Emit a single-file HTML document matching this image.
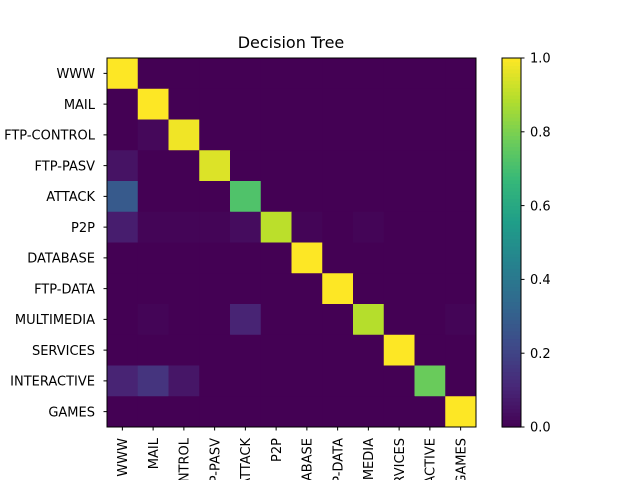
<!DOCTYPE html>
<html><head><meta charset="utf-8"><style>
html,body{margin:0;background:#fff;width:640px;height:480px;overflow:hidden;}
svg{display:block;font-family:"DejaVu Sans","Liberation Sans",sans-serif;}
</style></head><body>
<svg id="chart" width="640" height="480">
<text x="291" y="48" font-size="16" text-anchor="middle">Decision Tree</text>
<g id="cells"></g>
<g id="ax"></g>
<g id="cb"></g>
</svg>
<script>
const classes=["WWW","MAIL","FTP-CONTROL","FTP-PASV","ATTACK","P2P","DATABASE","FTP-DATA","MULTIMEDIA","SERVICES","INTERACTIVE","GAMES"];
const xTickLabels=["WWW","MAIL","FTP-CONTROL","FTP-PASV","ATTACK","P2P","DATABASE","FTP-DATA","MULTIMEDIA","SERVICES","INTERACTIVE","GAMES"];
const matrix=[
[1,0,0,0,0,0,0,0,0,0,0,0],
[0,1,0,0,0,0,0,0,0,0,0,0],
[0,0.02,0.98,0,0,0,0,0,0,0,0,0],
[0.05,0,0,0.95,0,0,0,0,0,0,0,0],
[0.28,0,0,0,0.72,0,0,0,0,0,0,0],
[0.08,0.01,0.01,0.01,0.03,0.9,0.01,0,0.01,0,0,0],
[0,0,0,0,0,0,1,0,0,0,0,0],
[0,0,0,0,0,0,0,1,0,0,0,0],
[0,0.01,0,0,0.1,0,0,0,0.89,0,0,0.01],
[0,0,0,0,0,0,0,0,0,1,0,0],
[0.1,0.15,0.06,0,0,0,0,0,0,0,0.77,0],
[0,0,0,0,0,0,0,0,0,0,0,1]];
const cbTicks=[0,0.2,0.4,0.6,0.8,1.0];
const cbTickLabels=["0.0","0.2","0.4","0.6","0.8","1.0"];
const NS="http://www.w3.org/2000/svg";
const L=107,T=58,W=369,H=369,n=classes.length,cw=W/n,ch=H/n;
const stops=[[68,1,84],[72,40,120],[62,74,137],[49,104,142],[38,130,142],[31,158,137],[53,183,121],[109,205,89],[180,222,44],[253,231,37]];
function vir(v){v=Math.max(0,Math.min(1,v));const p=v*(stops.length-1),i=Math.min(Math.floor(p),stops.length-2),f=p-i;
const c=stops[i].map((a,k)=>Math.round(a+(stops[i+1][k]-a)*f));return `rgb(${c})`;}
function xs(j){return L+j*cw;} function ys(i){return T+i*ch;}
function el(t,a,p){const e=document.createElementNS(NS,t);for(const k in a)e.setAttribute(k,a[k]);p.appendChild(e);return e;}
const cells=document.getElementById('cells');
matrix.forEach((row,i)=>row.forEach((v,j)=>{
const r=el('rect',{x:xs(j),y:ys(i),width:cw+0.5,height:ch+0.5,fill:vir(v)},cells);


}));
const ax=document.getElementById('ax');
el('rect',{x:L,y:T,width:W,height:H,fill:'none',stroke:'#000','stroke-width':1},ax);
classes.forEach((c,i)=>{
const y=ys(i)+ch/2;
el('line',{x1:L-3.5,x2:L,y1:y,y2:y,stroke:'#000'},ax);
const t=el('text',{x:L-12,y:y+4.7,'font-size':13,'text-anchor':'end'},ax);t.textContent=c;


});
xTickLabels.forEach((c,j)=>{
const x=xs(j)+cw/2;
el('line',{x1:x,x2:x,y1:T+H,y2:T+H+3.5,stroke:'#000'},ax);
const t=el('text',{x:0,y:0,'font-size':13,'text-anchor':'end',transform:`translate(${x+4.7},${T+H+11}) rotate(-90)`},ax);t.textContent=c;


});
const cb=document.getElementById('cb');
const cx=502,cwid=19;
const N=100;
for(let k=0;k<N;k++){el('rect',{x:cx,y:T+H-(k+1)*H/N,width:cwid,height:H/N+0.6,fill:vir((k+0.5)/N)},cb);}
el('rect',{x:cx,y:T,width:cwid,height:H,fill:'none',stroke:'#000'},cb);
cbTicks.forEach((v,k)=>{const y=T+H-v*H;
el('line',{x1:cx+cwid,x2:cx+cwid+3.5,y1:y,y2:y,stroke:'#000'},cb);
const t=el('text',{x:cx+cwid+9,y:y+4.7,'font-size':13},cb);t.textContent=cbTickLabels[k];


});
</script>
</body></html>
